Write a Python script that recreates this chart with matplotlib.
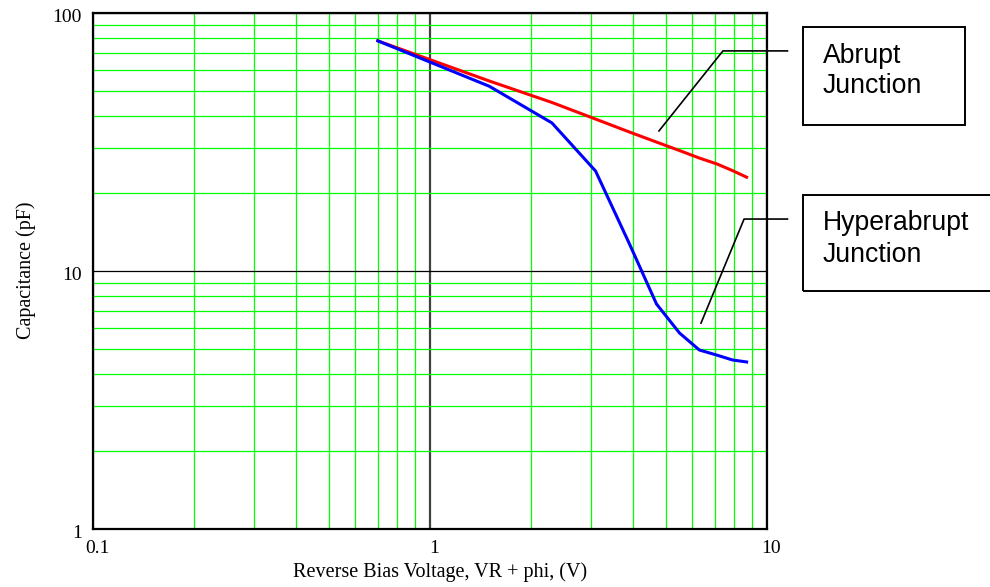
import matplotlib
matplotlib.use('Agg')
import matplotlib.pyplot as plt
from matplotlib.patches import Rectangle
from matplotlib.ticker import FixedLocator, NullFormatter
from matplotlib.transforms import ScaledTranslation

## data ##
volts = [0.7, 1.5, 2.3, 3.1, 3.9, 4.7, 5.5, 6.3, 7.1, 7.9, 8.7]
abrupt = [78.0, 54.5, 45.0, 38.8, 34.6, 31.6, 29.3, 27.4, 26.0, 24.5, 23.1]
hyperabrupt = [78.0, 52.0, 37.5, 24.4, 12.8, 7.45, 5.75, 4.94, 4.72, 4.52, 4.44]

x_ticks = [0.1, 1, 10]
x_labels = ['0.1', '1', '10']
y_ticks = [1, 10, 100]
y_labels = ['1', '10', '100']
minor_vals = [m * d for d in (0.1, 1, 10) for m in range(2, 10)]

# leader lines for the call-out boxes (data coords, run outside the axes)
abrupt_leader_x = [4.78, 7.40, 11.5]
abrupt_leader_y = [34.9, 71.3, 71.3]
hyper_leader_x = [6.37, 8.55, 11.5]
hyper_leader_y = [6.28, 15.9, 15.9]

serif = 'Liberation Serif'
sans = 'Liberation Sans'

fig = plt.figure(figsize=(9.9, 5.87), dpi=100)
ax = fig.add_axes([93 / 990, 1 - 529 / 587, 674 / 990, 516 / 587])

ax.set_xscale('log')
ax.set_yscale('log')
ax.set_xlim(0.1, 10)
ax.set_ylim(1, 100)

ax.xaxis.set_major_locator(FixedLocator(x_ticks))
ax.yaxis.set_major_locator(FixedLocator(y_ticks))
ax.xaxis.set_minor_locator(FixedLocator(minor_vals))
ax.yaxis.set_minor_locator(FixedLocator(minor_vals))
ax.xaxis.set_minor_formatter(NullFormatter())
ax.yaxis.set_minor_formatter(NullFormatter())
ax.set_xticklabels(x_labels, fontfamily=serif, fontsize=14)
ax.set_yticklabels(y_labels, fontfamily=serif, fontsize=14)
ax.tick_params(which='both', length=0)
ax.tick_params(axis='x', pad=8)
ax.tick_params(axis='y', pad=8)

# nudge tick labels like the original (a bit right / a bit down)
dx = ScaledTranslation(4 / 100, 0, fig.dpi_scale_trans)
dy = ScaledTranslation(0, -3 / 100, fig.dpi_scale_trans)
for lbl in ax.get_xticklabels():
    lbl.set_transform(lbl.get_transform() + dx)
for lbl in ax.get_yticklabels():
    lbl.set_transform(lbl.get_transform() + dy)

# grid
ax.grid(which='minor', color='#00ff00', lw=0.9)
ax.xaxis.grid(True, which='major', color='#404040', lw=1.6)
ax.yaxis.grid(True, which='major', color='black', lw=0.9)
ax.set_axisbelow(True)
for sp in ax.spines.values():
    sp.set_linewidth(1.6)
    sp.set_color('black')

ax.plot(volts, abrupt, color='#ff0000', lw=2.2, zorder=3)
ax.plot(volts, hyperabrupt, color='#0000ff', lw=2.2, zorder=4)

ax.plot(abrupt_leader_x, abrupt_leader_y, color='black', lw=1.2, clip_on=False, zorder=5)
ax.plot(hyper_leader_x, hyper_leader_y, color='black', lw=1.2, clip_on=False, zorder=5)

ax.set_xlabel('Reverse Bias Voltage, VR + phi, (V)', fontfamily=serif, fontsize=14.5, labelpad=4)
ax.xaxis.label.set_x(0.515)
ax.set_ylabel('Capacitance (pF)', fontfamily=serif, fontsize=14.5, labelpad=12)
ax.yaxis.label.set_y(0.502)

# call-out boxes
def fx(px):
    return px / 990

def fy(py):
    return 1 - py / 587

fig.add_artist(Rectangle((fx(803), fy(125)), 162 / 990, 98 / 587, transform=fig.transFigure,
                         fill=False, ec='black', lw=1.4))
fig.add_artist(Rectangle((fx(803), fy(291)), 200 / 990, 96 / 587, transform=fig.transFigure,
                         fill=False, ec='black', lw=1.4))
fs = 19.2
fig.text(fx(823), fy(63), 'Abrupt', fontfamily=sans, fontsize=fs, va='baseline')
fig.text(fx(823), fy(93), 'Junction', fontfamily=sans, fontsize=fs, va='baseline')
fig.text(fx(823), fy(230), 'Hyperabrupt', fontfamily=sans, fontsize=fs, va='baseline')
fig.text(fx(823), fy(262), 'Junction', fontfamily=sans, fontsize=fs, va='baseline')

fig.savefig('out.png', dpi=100)
